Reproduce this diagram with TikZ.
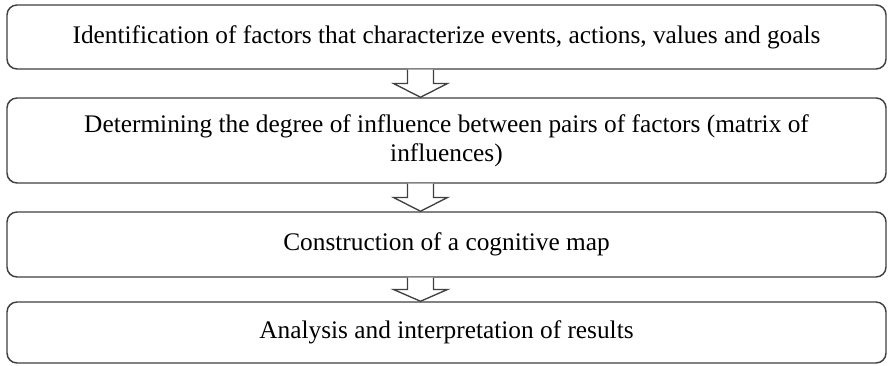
\documentclass[tikz,border=0pt]{standalone}
\usepackage{fontspec}
\setmainfont{Liberation Serif}
\usepackage{tikz}
\usetikzlibrary{calc}

\begin{document}
\begin{tikzpicture}[x=0.75pt,y=0.75pt,yscale=-1,xscale=1,
	stagebox/.style={draw={rgb, 255:red, 64; green, 64; blue, 64}, line width=1.1pt, rounded corners=7.5pt, fill=white, minimum width=659.25pt, inner sep=0.75pt, align=center, font=\fontsize{19}{21.75}\selectfont},
	hollowarrow/.style={draw={rgb, 255:red, 64; green, 64; blue, 64}, line width=1pt, fill=white, line join=miter}]
		\useasboundingbox (0,0) rectangle (888,366); %set diagram left start at 0, and has height of 366

		% Text Node
		\node [stagebox, minimum height=48pt] (ident) at (446.5,37) {Identification of factors that characterize events, actions, values and goals};
		% Text Node
		\node [stagebox, minimum height=63.75pt] (infl) at (446.5,140.5) {Determining the degree of influence between pairs of factors (matrix of\\influences)};
		% Text Node
		\node [stagebox, minimum height=48.75pt] (cogmap) at (446.5,244.5) {Construction of a cognitive map};
		% Text Node
		\node [stagebox, minimum height=45.75pt] (analysis) at (446.5,332.5) {Analysis and interpretation of results};

		%Shape: Down Arrow
		\draw [hollowarrow] ($(ident.south)+(-39,0)$) -- ($(ident.south)!.5!(infl.north)+(-39,0)$) -- ($(ident.south)!.5!(infl.north)+(-53,0)$) -- ($(infl.north)+(-26,0)$) -- ($(ident.south)!.5!(infl.north)+(1,0)$) -- ($(ident.south)!.5!(infl.north)+(-13,0)$) -- ($(ident.south)+(-13,0)$) ;
		%Shape: Down Arrow
		\draw [hollowarrow] ($(infl.south)+(-39,0)$) -- ($(infl.south)!.5!(cogmap.north)+(-39,0)$) -- ($(infl.south)!.5!(cogmap.north)+(-53,0)$) -- ($(cogmap.north)+(-26,0)$) -- ($(infl.south)!.5!(cogmap.north)+(1,0)$) -- ($(infl.south)!.5!(cogmap.north)+(-13,0)$) -- ($(infl.south)+(-13,0)$) ;
		%Shape: Down Arrow
		\draw [hollowarrow] ($(cogmap.south)+(-39,0)$) -- ($(cogmap.south)!.5!(analysis.north)+(-39,0)$) -- ($(cogmap.south)!.5!(analysis.north)+(-53,0)$) -- ($(analysis.north)+(-26,0)$) -- ($(cogmap.south)!.5!(analysis.north)+(1,0)$) -- ($(cogmap.south)!.5!(analysis.north)+(-13,0)$) -- ($(cogmap.south)+(-13,0)$) ;
\end{tikzpicture}
\end{document}
